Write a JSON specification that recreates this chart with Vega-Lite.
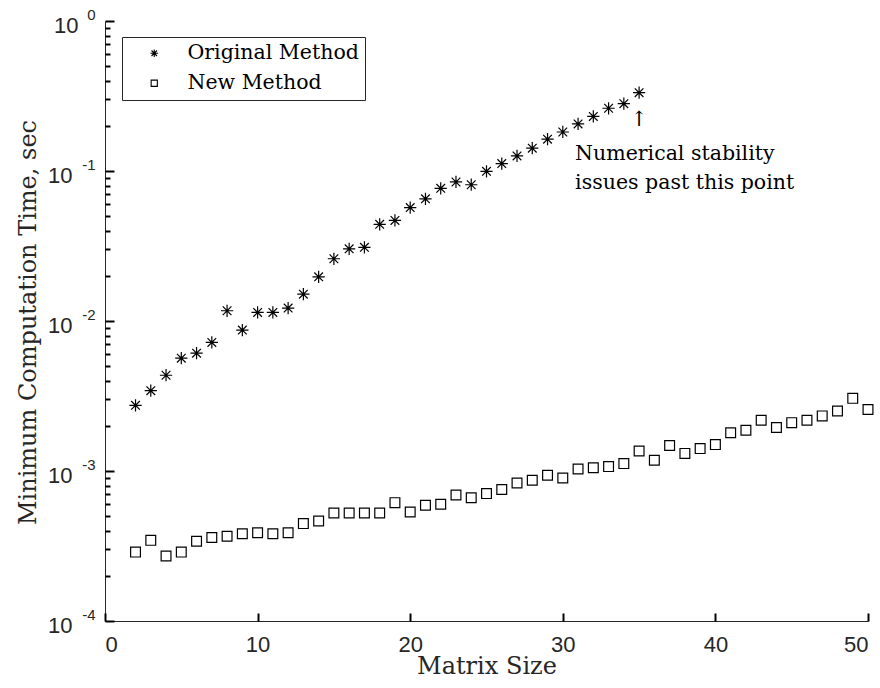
{
  "$schema": "https://vega.github.io/schema/vega-lite/v6.json",
  "width": 763,
  "height": 600,
  "autosize": {"type": "none"},
  "padding": {"left": 105, "top": 21, "right": 12, "bottom": 67},
  "background": "white",
  "config": {"view": {"stroke": null}},
  "data": {"values": [
    {"n": 2, "method": "Original Method", "time": 0.00274},
    {"n": 3, "method": "Original Method", "time": 0.00343},
    {"n": 4, "method": "Original Method", "time": 0.00435},
    {"n": 5, "method": "Original Method", "time": 0.00565},
    {"n": 6, "method": "Original Method", "time": 0.0061},
    {"n": 7, "method": "Original Method", "time": 0.0072},
    {"n": 8, "method": "Original Method", "time": 0.0117},
    {"n": 9, "method": "Original Method", "time": 0.0087},
    {"n": 10, "method": "Original Method", "time": 0.0114},
    {"n": 11, "method": "Original Method", "time": 0.0114},
    {"n": 12, "method": "Original Method", "time": 0.0122},
    {"n": 13, "method": "Original Method", "time": 0.0151},
    {"n": 14, "method": "Original Method", "time": 0.0197},
    {"n": 15, "method": "Original Method", "time": 0.026},
    {"n": 16, "method": "Original Method", "time": 0.0303},
    {"n": 17, "method": "Original Method", "time": 0.031},
    {"n": 18, "method": "Original Method", "time": 0.0441},
    {"n": 19, "method": "Original Method", "time": 0.0468},
    {"n": 20, "method": "Original Method", "time": 0.057},
    {"n": 21, "method": "Original Method", "time": 0.0652},
    {"n": 22, "method": "Original Method", "time": 0.0767},
    {"n": 23, "method": "Original Method", "time": 0.0845},
    {"n": 24, "method": "Original Method", "time": 0.081},
    {"n": 25, "method": "Original Method", "time": 0.0995},
    {"n": 26, "method": "Original Method", "time": 0.112},
    {"n": 27, "method": "Original Method", "time": 0.126},
    {"n": 28, "method": "Original Method", "time": 0.142},
    {"n": 29, "method": "Original Method", "time": 0.163},
    {"n": 30, "method": "Original Method", "time": 0.182},
    {"n": 31, "method": "Original Method", "time": 0.206},
    {"n": 32, "method": "Original Method", "time": 0.231},
    {"n": 33, "method": "Original Method", "time": 0.262},
    {"n": 34, "method": "Original Method", "time": 0.281},
    {"n": 35, "method": "Original Method", "time": 0.333},
    {"n": 2, "method": "New Method", "time": 0.000288},
    {"n": 3, "method": "New Method", "time": 0.000345},
    {"n": 4, "method": "New Method", "time": 0.000271},
    {"n": 5, "method": "New Method", "time": 0.000288},
    {"n": 6, "method": "New Method", "time": 0.00034},
    {"n": 7, "method": "New Method", "time": 0.00036},
    {"n": 8, "method": "New Method", "time": 0.000367},
    {"n": 9, "method": "New Method", "time": 0.000382},
    {"n": 10, "method": "New Method", "time": 0.000388},
    {"n": 11, "method": "New Method", "time": 0.000382},
    {"n": 12, "method": "New Method", "time": 0.000388},
    {"n": 13, "method": "New Method", "time": 0.000446},
    {"n": 14, "method": "New Method", "time": 0.000464},
    {"n": 15, "method": "New Method", "time": 0.000525},
    {"n": 16, "method": "New Method", "time": 0.000525},
    {"n": 17, "method": "New Method", "time": 0.000525},
    {"n": 18, "method": "New Method", "time": 0.000525},
    {"n": 19, "method": "New Method", "time": 0.000615},
    {"n": 20, "method": "New Method", "time": 0.000533},
    {"n": 21, "method": "New Method", "time": 0.000591},
    {"n": 22, "method": "New Method", "time": 0.0006},
    {"n": 23, "method": "New Method", "time": 0.000692},
    {"n": 24, "method": "New Method", "time": 0.000664},
    {"n": 25, "method": "New Method", "time": 0.000707},
    {"n": 26, "method": "New Method", "time": 0.000752},
    {"n": 27, "method": "New Method", "time": 0.000832},
    {"n": 28, "method": "New Method", "time": 0.000867},
    {"n": 29, "method": "New Method", "time": 0.000936},
    {"n": 30, "method": "New Method", "time": 0.000898},
    {"n": 31, "method": "New Method", "time": 0.00103},
    {"n": 32, "method": "New Method", "time": 0.00105},
    {"n": 33, "method": "New Method", "time": 0.00107},
    {"n": 34, "method": "New Method", "time": 0.00112},
    {"n": 35, "method": "New Method", "time": 0.00136},
    {"n": 36, "method": "New Method", "time": 0.00118},
    {"n": 37, "method": "New Method", "time": 0.00148},
    {"n": 38, "method": "New Method", "time": 0.00131},
    {"n": 39, "method": "New Method", "time": 0.00141},
    {"n": 40, "method": "New Method", "time": 0.0015},
    {"n": 41, "method": "New Method", "time": 0.0018},
    {"n": 42, "method": "New Method", "time": 0.00187},
    {"n": 43, "method": "New Method", "time": 0.00218},
    {"n": 44, "method": "New Method", "time": 0.00195},
    {"n": 45, "method": "New Method", "time": 0.0021},
    {"n": 46, "method": "New Method", "time": 0.00218},
    {"n": 47, "method": "New Method", "time": 0.00233},
    {"n": 48, "method": "New Method", "time": 0.00251},
    {"n": 49, "method": "New Method", "time": 0.00305},
    {"n": 50, "method": "New Method", "time": 0.00257}
  ]},
  "resolve": {"axis": {"x": "independent", "y": "independent"}},
  "layer": [
    {
      "mark": {"type": "point", "filled": false, "color": "black", "strokeWidth": 1.2, "opacity": 1, "size": 150},
      "encoding": {
        "x": {"field": "n", "type": "quantitative",
          "scale": {"domain": [0, 50], "nice": false, "zero": false},
          "axis": {"orient": "bottom", "title": "Matrix Size", "values": [0, 10, 20, 30, 40, 50], "format": "d",
            "grid": false, "ticks": false, "tickSize": 0, "domainColor": "#262626",
            "labelFont": "Liberation Sans", "labelFontSize": 22, "labelColor": "#262626",
            "labelPadding": 13, "labelBaseline": "top",
            "titleFont": "DejaVu Serif", "titleFontSize": 24, "titleFontWeight": "normal", "titleColor": "#262626",
            "titleBaseline": "middle", "titleY": 45}},
        "y": {"field": "time", "type": "quantitative",
          "scale": {"type": "log", "domain": [0.0001, 1], "nice": false},
          "axis": {"orient": "left", "title": "Minimum Computation Time, sec",
            "values": [0.0001, 0.001, 0.01, 0.1, 1], "labelExpr": "'10'",
            "grid": false, "ticks": false, "tickSize": 0, "domainColor": "#262626",
            "labelFont": "Liberation Sans", "labelFontSize": 22, "labelColor": "#262626",
            "labelAlign": "right", "labelBaseline": "middle", "labelOffset": 4,
            "labelPadding": {"condition": {"test": "datum.value > 0.5", "value": 27}, "value": 33},
            "titleFont": "DejaVu Serif", "titleFontSize": 24, "titleFontWeight": "normal", "titleColor": "#262626",
            "titleBaseline": "middle", "titleX": -77, "titleY": 301, "titleAngle": -90}},
        "shape": {"field": "method", "type": "nominal",
          "scale": {"domain": ["Original Method", "New Method"],
            "range": ["M0,-1L0,1M-1,0L1,0M-0.707,-0.707L0.707,0.707M-0.707,0.707L0.707,-0.707", "M-0.8,-0.8L0.8,-0.8L0.8,0.8L-0.8,0.8Z"]},
          "legend": {"title": null, "orient": "none", "legendX": 17, "legendY": 16,
            "fillColor": "white", "strokeColor": "#262626", "padding": 6,
            "symbolOffset": 16, "symbolSize": 60, "symbolStrokeWidth": 1.1,
            "symbolStrokeColor": "black", "symbolFillColor": "transparent",
            "labelFont": "DejaVu Serif", "labelFontSize": 20.5, "labelColor": "black", "labelLimit": 400,
            "labelOffset": 23, "rowPadding": 9}}
      }
    },
    {
      "transform": [{"filter": "datum.method == 'Original Method' && datum.n == 35"}],
      "mark": {"type": "text", "text": "↑", "font": "DejaVu Serif", "fontSize": 21, "color": "black",
        "align": "center", "baseline": "middle", "dy": 27},
      "encoding": {
        "x": {"field": "n", "type": "quantitative",
          "axis": {"orient": "bottom", "title": null, "values": [0, 10, 20, 30, 40, 50],
            "labels": false, "grid": false, "domain": false, "offset": -8, "ticks": true, "zindex": 2,
            "tickSize": 8, "tickColor": "black", "tickWidth": 2}},
        "y": {"field": "time", "type": "quantitative",
          "axis": {"orient": "left", "title": null, "values": [0.0001, 0.001, 0.01, 0.1, 1],
            "labelExpr": "'' + round(log(datum.value) / LN10)",
            "grid": false, "ticks": false, "tickSize": 0, "domain": false,
            "labelFont": "Liberation Sans", "labelFontSize": 15, "labelColor": "#262626",
            "labelAlign": "right", "labelBaseline": "middle", "labelOffset": -7, "labelPadding": 10}}
      }
    },
    {
      "transform": [{"filter": "datum.method == 'Original Method' && datum.n == 35"}],
      "mark": {"type": "text", "text": ["Numerical stability", "issues past this point"],
        "font": "DejaVu Serif", "fontSize": 20.5, "color": "black", "lineHeight": 29,
        "align": "left", "baseline": "alphabetic", "dx": -64, "dy": 67},
      "encoding": {
        "x": {"field": "n", "type": "quantitative", "axis": null},
        "y": {"field": "time", "type": "quantitative", "axis": null}
      }
    },
    {
      "transform": [{"filter": "datum.n == 35"}],
      "mark": {"type": "point", "opacity": 0},
      "encoding": {
        "x": {"field": "n", "type": "quantitative", "axis": null},
        "y": {"field": "time", "type": "quantitative",
          "axis": {"orient": "left", "title": null, "values": [0.0001, 0.001, 0.01, 0.1, 1],
            "labels": false, "grid": false, "domain": false, "offset": -9, "ticks": true, "zindex": 2,
            "tickSize": 9, "tickColor": "black", "tickWidth": 2}}
      }
    },
    {
      "transform": [{"filter": "datum.n == 35"}],
      "mark": {"type": "point", "opacity": 0},
      "encoding": {
        "x": {"field": "n", "type": "quantitative", "axis": null},
        "y": {"field": "time", "type": "quantitative",
          "axis": {"orient": "left", "title": null,
            "values": [0.0002, 0.0003, 0.0004, 0.0005, 0.0006, 0.0007, 0.0008, 0.0009,
                       0.002, 0.003, 0.004, 0.005],
            "labels": false, "grid": false, "domain": false, "offset": -5, "ticks": true, "zindex": 2,
            "tickSize": 5, "tickColor": "black", "tickWidth": 2}}
      }
    },
    {
      "transform": [{"filter": "datum.n == 35"}],
      "mark": {"type": "point", "opacity": 0},
      "encoding": {
        "x": {"field": "n", "type": "quantitative", "axis": null},
        "y": {"field": "time", "type": "quantitative",
          "axis": {"orient": "left", "title": null,
            "values": [0.006, 0.007, 0.008, 0.009,
                       0.02, 0.03, 0.04, 0.05, 0.06, 0.07, 0.08, 0.09],
            "labels": false, "grid": false, "domain": false, "offset": -5, "ticks": true, "zindex": 2,
            "tickSize": 5, "tickColor": "black", "tickWidth": 2}}
      }
    },
    {
      "transform": [{"filter": "datum.n == 35"}],
      "mark": {"type": "point", "opacity": 0},
      "encoding": {
        "x": {"field": "n", "type": "quantitative", "axis": null},
        "y": {"field": "time", "type": "quantitative",
          "axis": {"orient": "left", "title": null,
            "values": [0.2, 0.3, 0.4, 0.5, 0.6, 0.7, 0.8, 0.9],
            "labels": false, "grid": false, "domain": false, "offset": -5, "ticks": true, "zindex": 2,
            "tickSize": 5, "tickColor": "black", "tickWidth": 2}}
      }
    }
  ]
}
